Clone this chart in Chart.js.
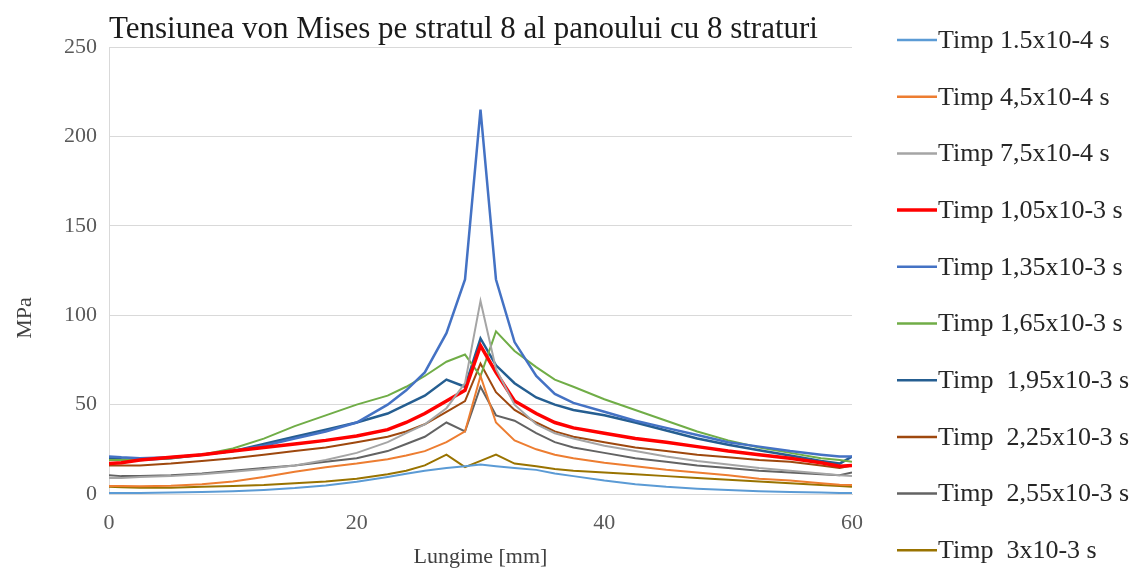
<!DOCTYPE html>
<html lang="ro">
<head>
<meta charset="UTF-8">
<title>Tensiunea von Mises - stratul 8</title>
<script src="https://cdn.jsdelivr.net/npm/chart.js"></script>
<style>
  html, body { margin: 0; padding: 0; background: #fff; }
  .wrap { width: 1136px; height: 573px; position: relative; }
</style>
</head>
<body>
<div class="wrap"><canvas id="mises"></canvas></div>
<script>
  // pozitia pe lungimea panoului [mm]
  const lungime = [0, 1, 2.5, 5, 7.5, 10, 12.5, 15, 17.5, 20, 22.5, 24, 25.5, 27.25, 28.75, 30,
                   31.25, 32.75, 34.5, 36, 37.5, 40, 42.5, 45, 47.5, 50, 52.5, 55, 57.5, 59, 60];

  const etichete = ['Timp 1.5x10-4 s', 'Timp 4,5x10-4 s', 'Timp 7,5x10-4 s', 'Timp 1,05x10-3 s',
                    'Timp 1,35x10-3 s', 'Timp 1,65x10-3 s', 'Timp  1,95x10-3 s', 'Timp  2,25x10-3 s',
                    'Timp  2,55x10-3 s', 'Timp  3x10-3 s'];

  // tensiunea von Mises [MPa] pentru fiecare moment de timp
  const t150 = [0.5, 0.5, 0.6, 0.8, 1.1, 1.6, 2.3, 3.3, 4.8, 6.8, 9.5, 11.3, 13, 14.5, 15.5, 16.5,
                15.5, 14.5, 13.5, 11.5, 10, 7.5, 5.5, 4, 3, 2.2, 1.6, 1.1, 0.8, 0.6, 0.5];
  const t450 = [4.5, 4.5, 4.3, 4.6, 5.5, 7, 9.5, 12.5, 15, 17, 19.5, 21.5, 24, 29, 35, 66,
                40, 30, 25, 22, 20, 17.5, 15.5, 13.5, 12, 10.5, 8.5, 7.5, 6, 5.2, 5];
  const t750 = [9, 9, 9.5, 10, 11, 12.5, 14, 16, 19, 23, 29, 34, 39, 48, 62, 108,
                70, 50, 39, 34, 31, 27, 24, 21, 18.5, 16.5, 14.5, 13, 11.5, 10.5, 10];
  const t1050 = [17, 17.5, 19, 20.5, 22, 24, 26, 28, 30, 32.5, 36, 40, 45, 52, 58, 83,
                 68, 52, 45, 40, 37, 34, 31, 29, 26.5, 24, 22, 20, 17.5, 15.5, 16];
  const t1350 = [21, 20.5, 20, 20.5, 22, 24, 27, 31, 35, 40, 50, 58, 68, 90, 120, 215,
                 120, 85, 66, 56, 51, 46, 41, 37, 33, 29, 26.5, 24, 22, 21, 21];
  const t1650 = [19, 19, 19.5, 20, 22, 25.5, 31, 38, 44, 50, 55, 60, 66, 74, 78, 66,
                 91, 80, 71, 64, 60, 53, 47, 41, 35, 30, 26, 23, 20, 19, 18];
  const t1950 = [20, 19.5, 19, 20, 22, 24, 28, 32, 36, 40, 45, 50, 55, 64, 60, 87,
                 72, 62, 54, 50, 47, 44, 40, 35.5, 31, 27.5, 24.5, 21.5, 18.5, 17, 21];
  const t2250 = [16, 16, 16, 17, 18.5, 20, 22, 24, 26, 29, 32, 35, 39, 46, 52, 73,
                 57, 47, 40, 35, 32, 29, 26, 24, 22, 20.5, 19, 18, 16, 14.5, 16];
  const t2550 = [10.5, 10, 10, 10.5, 11.5, 13, 14.5, 16, 18, 20, 24, 28, 32, 40, 35, 60,
                 44, 41, 34, 29, 26, 23, 20, 18, 16, 14.5, 13, 12, 11, 10.5, 12];
  const t3000 = [4, 3.8, 3.5, 3.5, 4, 4.5, 5, 6, 7, 8.5, 11, 13, 16, 22, 15, 18.5,
                 22, 17, 15.5, 14, 13, 12, 11, 10, 9, 8, 7, 6, 5, 4.5, 4];

  const serii = [t150, t450, t750, t1050, t1350, t1650, t1950, t2250, t2550, t3000];
  const culori = ['#5B9BD5', '#ED7D31', '#A5A5A5', '#FF0000', '#4472C4',
                  '#70AD47', '#255E91', '#9E480E', '#636363', '#997300'];
  const grosimi = [2, 2, 2, 3.5, 2.5, 2, 2.5, 2, 2, 2];

  const serif = '"Liberation Serif", "Times New Roman", serif';

  // legenda din dreapta si eticheta axei Y, desenate direct pe canvas
  const legendaLaterala = {
    id: 'legendaLaterala',
    afterDraw(chart) {
      const ctx = chart.ctx;
      ctx.save();
      ctx.font = '26px ' + serif;
      ctx.textBaseline = 'middle';
      chart.data.datasets.forEach((ds, i) => {
        const y = 40 + i * 56.7;
        ctx.strokeStyle = ds.borderColor;
        ctx.lineWidth = Math.max(2.5, ds.borderWidth);
        ctx.beginPath();
        ctx.moveTo(897, y);
        ctx.lineTo(937, y);
        ctx.stroke();
        ctx.fillStyle = '#262626';
        ctx.fillText(ds.label, 938, y + 1);
      });

      ctx.translate(25, 318);
      ctx.rotate(-Math.PI / 2);
      ctx.font = '22px ' + serif;
      ctx.textAlign = 'center';
      ctx.fillStyle = '#404040';
      ctx.fillText('MPa', 0, 0);
      ctx.restore();
    }
  };

  new Chart(document.getElementById('mises'), {
    type: 'line',
    data: {
      datasets: serii.map((vals, i) => ({
        label: etichete[i],
        data: vals.map((v, j) => ({ x: lungime[j], y: v })),
        borderColor: culori[i],
        borderWidth: grosimi[i],
        pointRadius: 0,
        tension: 0,
        fill: false
      }))
    },
    options: {
      responsive: true,
      maintainAspectRatio: false,
      animation: false,
      layout: { padding: { left: 0, right: 284, top: 0, bottom: 0 } },
      plugins: {
        legend: { display: false },
        tooltip: { enabled: false },
        title: {
          display: true,
          text: 'Tensiunea von Mises pe stratul 8 al panoului cu 8 straturi',
          align: 'start',
          fullSize: false,
          color: '#1a1a1a',
          font: { family: serif, size: 31, weight: 'normal', lineHeight: 1.1 },
          padding: { top: 13, bottom: 0 }
        }
      },
      scales: {
        x: {
          type: 'linear',
          min: 0,
          max: 60,
          afterFit(scale) { scale.height = 79; },
          grid: { display: false },
          border: { display: true, color: '#D9D9D9' },
          ticks: { stepSize: 20, padding: 8, color: '#595959', font: { family: serif, size: 22 } },
          title: {
            display: true,
            text: 'Lungime [mm]',
            color: '#404040',
            font: { family: serif, size: 22 },
            padding: { top: 0, bottom: 3 }
          }
        },
        y: {
          min: 0,
          max: 250,
          afterFit(scale) { scale.width = 109; },
          grid: { color: '#D9D9D9', drawTicks: false },
          border: { display: true, color: '#D9D9D9' },
          ticks: { stepSize: 50, padding: 12, color: '#595959', font: { family: serif, size: 22 } }
        }
      }
    },
    plugins: [legendaLaterala]
  });
</script>
</body>
</html>
